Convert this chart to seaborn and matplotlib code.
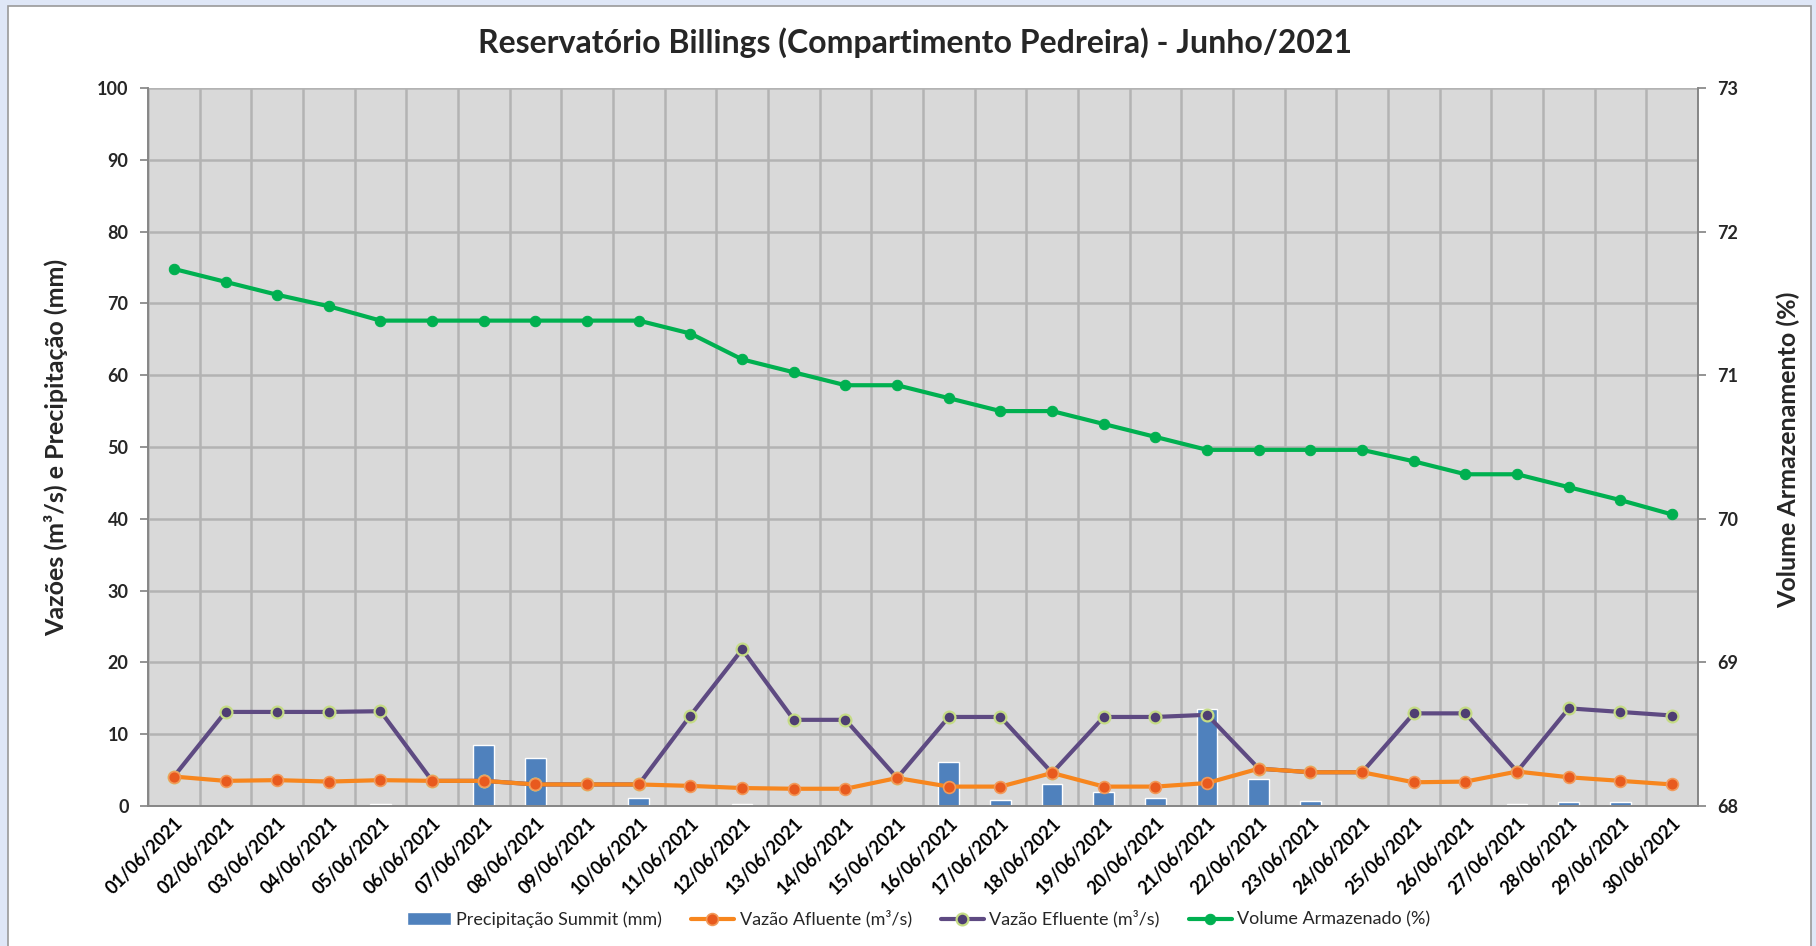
import numpy as np
import pandas as pd
import matplotlib
matplotlib.use('Agg')
import matplotlib.pyplot as plt
import matplotlib.transforms as mtransforms
from matplotlib.patches import Rectangle
import seaborn as sns

# Dados - Reservatório Billings (Compartimento Pedreira), junho/2021
dias = ['01/06/2021', '02/06/2021', '03/06/2021', '04/06/2021', '05/06/2021',
        '06/06/2021', '07/06/2021', '08/06/2021', '09/06/2021', '10/06/2021',
        '11/06/2021', '12/06/2021', '13/06/2021', '14/06/2021', '15/06/2021',
        '16/06/2021', '17/06/2021', '18/06/2021', '19/06/2021', '20/06/2021',
        '21/06/2021', '22/06/2021', '23/06/2021', '24/06/2021', '25/06/2021',
        '26/06/2021', '27/06/2021', '28/06/2021', '29/06/2021', '30/06/2021']
precipitacao = [0.0, 0.0, 0.0, 0.0, 0.3, 0.0, 8.5, 6.7, 0.0, 1.1,
                0.0, 0.3, 0.0, 0.0, 0.0, 6.1, 0.8, 3.0, 1.9, 1.1,
                13.5, 3.7, 0.7, 0.0, 0.0, 0.0, 0.3, 0.5, 0.5, 0.0]
vazao_afluente = [4.1, 3.5, 3.6, 3.4, 3.6, 3.5, 3.5, 3.0, 3.0, 3.0,
                  2.8, 2.5, 2.4, 2.4, 3.9, 2.7, 2.7, 4.6, 2.7, 2.7,
                  3.2, 5.2, 4.7, 4.7, 3.3, 3.4, 4.8, 4.0, 3.5, 3.0]
vazao_efluente = [4.1, 13.1, 13.1, 13.1, 13.2, 3.5, 3.5, 3.0, 3.0, 3.0,
                  12.6, 21.8, 12.0, 12.0, 3.9, 12.4, 12.4, 4.6, 12.4, 12.4,
                  12.7, 5.2, 4.7, 4.7, 12.9, 12.9, 4.8, 13.6, 13.1, 12.6]
volume = [71.74, 71.65, 71.56, 71.48, 71.38, 71.38, 71.38, 71.38, 71.38, 71.38,
          71.29, 71.11, 71.02, 70.93, 70.93, 70.84, 70.75, 70.75, 70.66, 70.57,
          70.48, 70.48, 70.48, 70.48, 70.40, 70.31, 70.31, 70.22, 70.13, 70.03]

df = pd.DataFrame({'x': np.arange(len(dias)), 'dia': dias, 'prec': precipitacao,
                   'afl': vazao_afluente, 'efl': vazao_efluente, 'vol': volume})

sns.set_theme(style='white')
plt.rcParams['font.family'] = ['Lato', 'DejaVu Sans']

fig = plt.figure(figsize=(18.16, 9.46), dpi=100)
fig.patch.set_facecolor('#dfe7f7')
# moldura branca do gráfico
fig.patches.append(Rectangle((8 / 1816, -0.01), 1803 / 1816, 1 - 6 / 946 + 0.01,
                             transform=fig.transFigure, facecolor='white',
                             edgecolor='#9a9a9a', lw=1.2, zorder=-10))

ax = fig.add_axes([0.0815, 0.148, 0.8535, 0.759])
ax.set_facecolor('#d9d9d9')

sns.barplot(data=df, x='x', y='prec', native_scale=True, width=0.4, color='#4F81BD',
            saturation=1, label='Precipitação Summit (mm)', ax=ax, zorder=2)
sns.lineplot(data=df, x='x', y='afl', color='#F7861E', lw=3, marker='o', markersize=8.5,
             markerfacecolor='#E85A1E', markeredgecolor='#F29A5A', markeredgewidth=1.2,
             label='Vazão Afluente (m³/s)', ax=ax, zorder=4)
sns.lineplot(data=df, x='x', y='efl', color='#5E4A82', lw=3, marker='o', markersize=8.5,
             markerfacecolor='#4E3E72', markeredgecolor='#C5DC85', markeredgewidth=1.6,
             label='Vazão Efluente (m³/s)', ax=ax, zorder=3)

ax2 = ax.twinx()
sns.lineplot(data=df, x='x', y='vol', color='#00B050', lw=3, marker='o', markersize=7.5,
             markerfacecolor='#00B050', markeredgecolor='#00B050',
             label='Volume Armazenado (%)', ax=ax2)

for a in (ax, ax2):
    if a.get_legend() is not None:
        a.get_legend().remove()

# eixo x categórico (estilo Excel)
ax.set_xlim(-0.5, len(dias) - 0.5)
ax.set_xticks(df['x'])
ax.set_xticks(np.arange(-0.5, len(dias), 1), minor=True)
ax.set_xticklabels(dias, rotation=45, ha='right', rotation_mode='anchor',
                   fontsize=13, fontweight='bold', color='black')
offset = mtransforms.ScaledTranslation(0.19, 0.04, fig.dpi_scale_trans)
for lbl in ax.get_xticklabels():
    lbl.set_transform(lbl.get_transform() + offset)
ax.tick_params(axis='x', which='major', length=0, pad=6)
ax.tick_params(axis='x', which='minor', length=6, color='#868686', width=1, direction='out')
ax.set_xlabel('')

ax.set_ylim(0, 100)
ax.set_yticks(np.arange(0, 101, 10))
ax.tick_params(axis='y', length=6, color='#868686', direction='out', labelsize=13, pad=8)
for lbl in ax.get_yticklabels():
    lbl.set_fontweight('bold')
ax.set_ylabel('')

ax2.set_ylim(68, 73)
ax2.set_yticks(np.arange(68, 74, 1))
ax2.tick_params(axis='y', length=6, color='#868686', direction='out', labelsize=13, pad=8)
for lbl in ax2.get_yticklabels():
    lbl.set_fontweight('bold')
ax2.set_ylabel('')
ax2.grid(False)

ax.grid(True, axis='y', which='major', color='#b3b3b3', lw=1.8)
ax.grid(True, axis='x', which='minor', color='#b3b3b3', lw=1.8)
ax.grid(False, axis='x', which='major')
ax.set_axisbelow(True)

for a in (ax, ax2):
    a.spines['top'].set_visible(False)
    for s in ('left', 'right', 'bottom'):
        a.spines[s].set_color('#868686')
        a.spines[s].set_linewidth(1.2)

fig.text(0.504, 0.955, 'Reservatório Billings (Compartimento Pedreira) - Junho/2021',
         ha='center', va='center', fontsize=23, fontweight='bold')
fig.text(0.031, 0.527, 'Vazões (m³/s) e Precipitação (mm)', rotation=90,
         ha='center', va='center', fontsize=18, fontweight='bold')
fig.text(0.985, 0.525, 'Volume Armazenamento (%)', rotation=90,
         ha='center', va='center', fontsize=18, fontweight='bold')

h1, l1 = ax.get_legend_handles_labels()
h2, l2 = ax2.get_legend_handles_labels()
entradas = dict(zip(l1 + l2, h1 + h2))
ordem = ['Precipitação Summit (mm)', 'Vazão Afluente (m³/s)',
         'Vazão Efluente (m³/s)', 'Volume Armazenado (%)']
fig.legend([entradas[k] for k in ordem], ordem, loc='center',
           bbox_to_anchor=(0.506, 0.0285), ncol=4, frameon=False, fontsize=13,
           handlelength=2.4, columnspacing=1.6, handletextpad=0.3)

fig.savefig('out.png', dpi=100, facecolor=fig.get_facecolor())
